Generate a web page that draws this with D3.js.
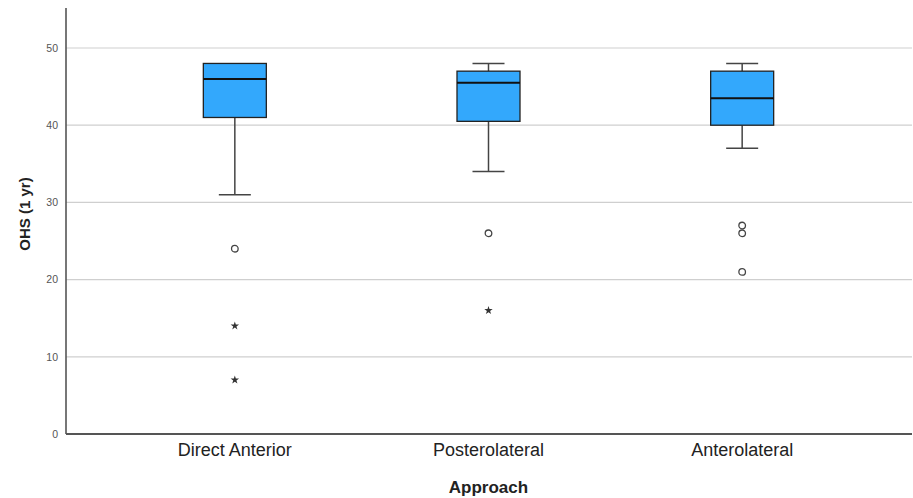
<!DOCTYPE html>
<html>
<head>
<meta charset="utf-8">
<script src="https://cdn.jsdelivr.net/npm/d3@7"></script>
<style>
  body { margin: 0; background: #fff; }
  text { font-family: "Liberation Sans", Arial, sans-serif; }
</style>
</head>
<body>
<div id="chart"></div>
<script>
// box plot values
var approaches = ['Direct Anterior', 'Posterolateral', 'Anterolateral'];
var whiskerLow = [31, 34, 37];
var q1 = [41, 40.5, 40];
var median = [46, 45.5, 43.5];
var q3 = [48, 47, 47];
var whiskerHigh = [48, 48, 48];
// outliers (circles) and extremes (stars)
var outliers = [[24], [26], [27, 26, 21]];
var extremes = [[14, 7], [16], []];
var yTicks = [0, 10, 20, 30, 40, 50];

var W = 913, H = 498;
var margin = { top: 8, right: 1, bottom: 64, left: 66 };

var svg = d3.select('#chart').append('svg')
  .attr('width', W)
  .attr('height', H);

// y: 0 at pixel 434, 50 at pixel 48
var y = d3.scaleLinear().domain([0, 50]).range([434, 48]);
var yTop = y.invert(margin.top);

var x = d3.scaleBand()
  .domain(approaches)
  .range([108, 869]);
var boxW = 63, capW = 32;

// gridlines
svg.append('g').selectAll('line')
  .data(yTicks.filter(function(d) { return d > 0; }))
  .enter().append('line')
  .attr('x1', margin.left).attr('x2', W - margin.right)
  .attr('y1', function(d) { return y(d); })
  .attr('y2', function(d) { return y(d); })
  .attr('stroke', '#cfcfcf')
  .attr('stroke-width', 1.2);

// y axis
var yAxis = d3.axisLeft(y).tickValues(yTicks).tickSize(0).tickPadding(8);
var gy = svg.append('g')
  .attr('transform', 'translate(' + margin.left + ',0)')
  .call(yAxis);
gy.select('.domain').remove();
gy.selectAll('text').attr('font-size', 10.5).attr('fill', '#555');

svg.append('line')
  .attr('x1', margin.left).attr('x2', margin.left)
  .attr('y1', y(yTop)).attr('y2', y(0))
  .attr('stroke', '#555').attr('stroke-width', 1.6);

// x axis
var xAxis = d3.axisBottom(x).tickSize(0).tickPadding(9);
var gx = svg.append('g')
  .attr('transform', 'translate(0,' + y(0) + ')')
  .call(xAxis);
gx.select('.domain').remove();
gx.selectAll('text').attr('font-size', 18).attr('fill', '#222');

svg.append('line')
  .attr('x1', margin.left).attr('x2', W - margin.right)
  .attr('y1', y(0)).attr('y2', y(0))
  .attr('stroke', '#555').attr('stroke-width', 2);

// axis titles
svg.append('text')
  .attr('x', x(approaches[1]) + x.bandwidth() / 2)
  .attr('y', 493)
  .attr('text-anchor', 'middle')
  .attr('font-size', 17).attr('font-weight', 'bold').attr('fill', '#222')
  .text('Approach');

svg.append('text')
  .attr('transform', 'translate(30,214) rotate(-90)')
  .attr('text-anchor', 'middle')
  .attr('font-size', 15).attr('font-weight', 'bold').attr('fill', '#222')
  .text('OHS (1 yr)');

// boxes
var groups = svg.append('g').selectAll('g')
  .data(approaches)
  .enter().append('g')
  .attr('transform', function(d) { return 'translate(' + (x(d) + x.bandwidth() / 2) + ',0)'; });

groups.append('line')
  .attr('x1', 0).attr('x2', 0)
  .attr('y1', function(d, i) { return y(whiskerLow[i]); })
  .attr('y2', function(d, i) { return y(q1[i]); })
  .attr('stroke', '#444').attr('stroke-width', 1.5);
groups.append('line')
  .attr('x1', 0).attr('x2', 0)
  .attr('y1', function(d, i) { return y(whiskerHigh[i]); })
  .attr('y2', function(d, i) { return y(q3[i]); })
  .attr('stroke', '#444').attr('stroke-width', 1.5);

groups.append('line')
  .attr('x1', -capW / 2).attr('x2', capW / 2)
  .attr('y1', function(d, i) { return y(whiskerLow[i]); })
  .attr('y2', function(d, i) { return y(whiskerLow[i]); })
  .attr('stroke', '#444').attr('stroke-width', 1.5);
groups.filter(function(d, i) { return whiskerHigh[i] > q3[i]; })
  .append('line')
  .attr('x1', -capW / 2).attr('x2', capW / 2)
  .attr('y1', function(d) { return y(whiskerHigh[approaches.indexOf(d)]); })
  .attr('y2', function(d) { return y(whiskerHigh[approaches.indexOf(d)]); })
  .attr('stroke', '#444').attr('stroke-width', 1.5);

groups.append('rect')
  .attr('x', -boxW / 2)
  .attr('width', boxW)
  .attr('y', function(d, i) { return y(q3[i]); })
  .attr('height', function(d, i) { return y(q1[i]) - y(q3[i]); })
  .attr('fill', '#33a8fc')
  .attr('stroke', '#222').attr('stroke-width', 1.3);

groups.append('line')
  .attr('x1', -boxW / 2).attr('x2', boxW / 2)
  .attr('y1', function(d, i) { return y(median[i]); })
  .attr('y2', function(d, i) { return y(median[i]); })
  .attr('stroke', '#111').attr('stroke-width', 2);

// outliers
groups.selectAll('circle')
  .data(function(d, i) { return outliers[i]; })
  .enter().append('circle')
  .attr('cx', 0)
  .attr('cy', function(v) { return y(v); })
  .attr('r', 3.3)
  .attr('fill', 'none')
  .attr('stroke', '#444').attr('stroke-width', 1.3);

var star = d3.symbol().type(d3.symbolStar).size(22);
groups.selectAll('path.star')
  .data(function(d, i) { return extremes[i]; })
  .enter().append('path')
  .attr('class', 'star')
  .attr('d', star)
  .attr('transform', function(v) { return 'translate(0,' + y(v) + ')'; })
  .attr('fill', '#333');
</script>
</body>
</html>
